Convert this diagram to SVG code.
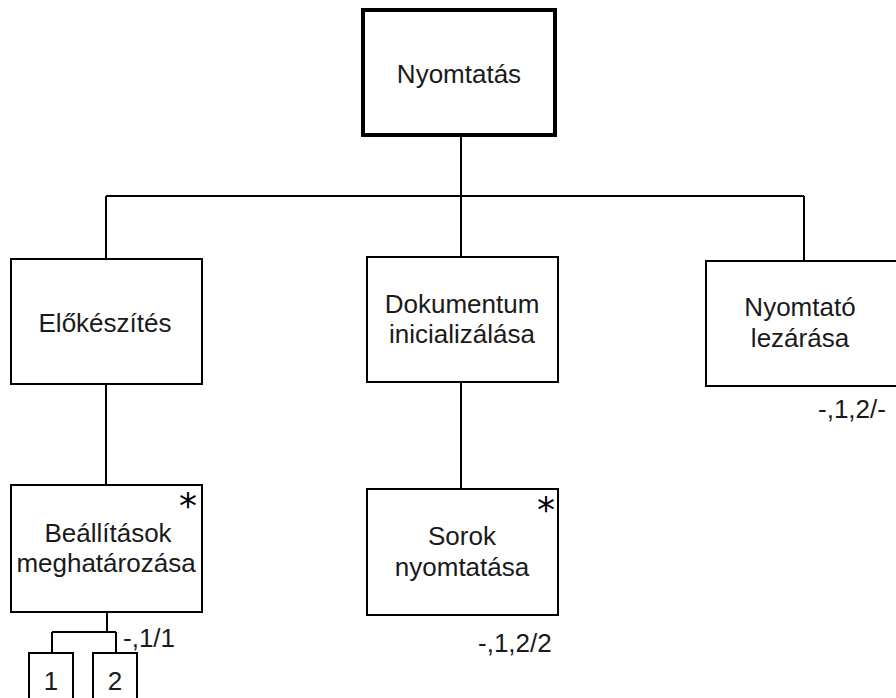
<svg xmlns="http://www.w3.org/2000/svg" width="896" height="698" viewBox="0 0 896 698">
<style>
.box{fill:#fff;stroke:#000;stroke-width:2}
.top{fill:#fff;stroke:#000;stroke-width:4}
.t{font-family:"Liberation Sans",Arial,sans-serif;font-size:26px;fill:#1a1a1a;text-anchor:middle}
.l{font-family:"Liberation Sans",Arial,sans-serif;font-size:26px;fill:#1a1a1a}
.ast{font-family:"DejaVu Sans",sans-serif;font-size:36px;fill:#000;text-anchor:middle}
.c{fill:none;stroke:#000;stroke-width:2}
</style>
<rect width="896" height="698" fill="#fff"/>
<g id="connectors" class="c">
<path d="M461 137V196M106 196H804M106 196V258M461 196V256M804 196V260"/>
<path d="M106 385V484M461 383V488"/>
<path d="M107 613V632M52 632H116M52 632V652M116 632V652"/>
</g>
<g id="n-nyomtatas">
<rect class="top" x="363" y="10" width="192" height="125"/>
<text class="t" x="459" y="83">Nyomtatás</text>
</g>
<g id="n-elokeszites">
<rect class="box" x="11" y="259" width="191" height="125"/>
<text class="t" x="105" y="332">Előkészítés</text>
</g>
<g id="n-dokumentum">
<rect class="box" x="367" y="257" width="191" height="125"/>
<text class="t" x="462" y="313">Dokumentum</text>
<text class="t" x="462" y="343">inicializálása</text>
</g>
<g id="n-nyomtato">
<rect class="box" x="706" y="261" width="192" height="125"/>
<text class="t" x="800" y="316">Nyomtató</text>
<text class="t" x="800" y="347">lezárása</text>
<text class="l" x="818" y="418">-,1,2/-</text>
</g>
<g id="n-beallitasok">
<rect class="box" x="11" y="485" width="191" height="127"/>
<text class="ast" x="188" y="518">*</text>
<text class="t" x="108" y="542">Beállítások</text>
<text class="t" x="106" y="572">meghatározása</text>
<text class="l" x="123" y="647">-,1/1</text>
</g>
<g id="n-sorok">
<rect class="box" x="367" y="489" width="191" height="126"/>
<text class="ast" x="546" y="522">*</text>
<text class="t" x="462" y="545">Sorok</text>
<text class="t" x="462" y="576">nyomtatása</text>
<text class="l" x="478" y="652">-,1,2/2</text>
</g>
<g id="n-1">
<rect class="box" x="29" y="653" width="44" height="60"/>
<text class="t" x="51" y="690">1</text>
</g>
<g id="n-2">
<rect class="box" x="93" y="653" width="44" height="60"/>
<text class="t" x="115" y="690">2</text>
</g>
</svg>
